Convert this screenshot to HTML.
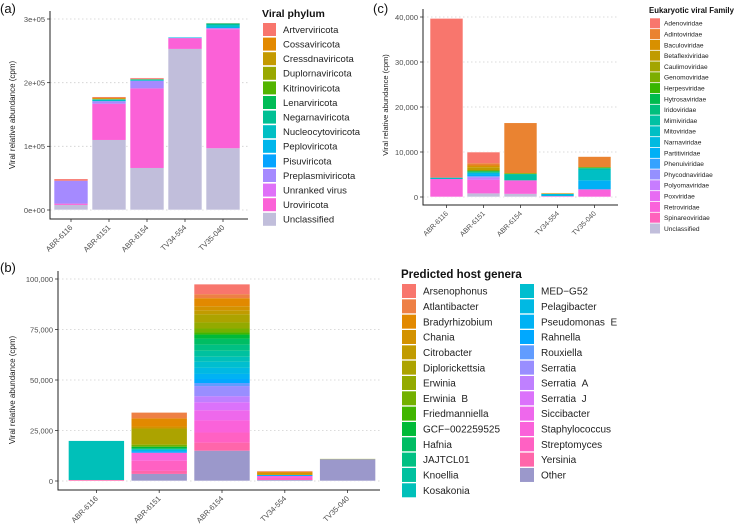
<!DOCTYPE html>
<html><head><meta charset="utf-8"><style>
html,body{margin:0;padding:0;background:#fff;}
svg{display:block;font-family:"Liberation Sans",sans-serif;}
</style></head><body>
<svg id="fig" width="734" height="531" viewBox="0 0 734 531"></svg>
<script>
// ---------- Data ----------
const samples = ["ABR-6116","ABR-6151","ABR-6154","TV34-554","TV35-040"];

const phylaA = ["Artverviricota","Cossaviricota","Cressdnaviricota","Duplornaviricota","Kitrinoviricota","Lenarviricota","Negarnaviricota","Nucleocytoviricota","Peploviricota","Pisuviricota","Preplasmiviricota","Unranked virus","Uroviricota","Unclassified"];
const valsA6116 = [3000,0,0,0,0,0,0,0,0,0,36000,0,2000,8000];
const valsA6151 = [1500,1500,1000,0,0,0,1000,2000,0,0,4000,0,57000,110000];
const valsA6154 = [2000,0,0,0,0,1000,0,1500,0,0,12000,0,125000,66000];
const valsA554  = [0,0,0,0,0,0,0,0,1500,0,0,0,17000,253000];
const valsA040  = [500,0,0,0,0,1000,2000,3000,2000,0,0,1500,187000,97000];
const ticksA = [0,100000,200000,300000];
const tickLabelsA = ["0e+00","1e+05","2e+05","3e+05"];

const familiesC = ["Adenoviridae","Adintoviridae","Baculoviridae","Betaflexiviridae","Caulimoviridae","Genomoviridae","Herpesviridae","Hytrosaviridae","Iridoviridae","Mimiviridae","Mitoviridae","Narnaviridae","Partitiviridae","Phenuiviridae","Phycodnaviridae","Polyomaviridae","Poxviridae","Retroviridae","Spinareoviridae","Unclassified"];
const valsC6116 = [35400,0,0,0,0,0,0,0,0,0,300,0,0,0,0,0,0,4000,0,0];
const valsC6151 = [2500,500,400,700,0,0,200,0,300,0,0,300,500,0,300,500,0,3000,0,800];
const valsC6154 = [0,11200,0,0,0,200,0,0,0,1400,0,0,0,0,0,0,0,3000,0,700];
const valsC554  = [0,0,200,0,0,0,0,0,0,0,0,500,0,0,0,0,0,200,0,0];
const valsC040  = [0,2400,0,0,0,0,200,0,0,400,2300,0,2000,0,0,0,0,1700,0,0];
const ticksC = [0,10000,20000,30000,40000];
const tickLabelsC = ["0","10,000","20,000","30,000","40,000"];

const generaB = ["Arsenophonus","Atlantibacter","Bradyrhizobium","Chania","Citrobacter","Diplorickettsia","Erwinia","Erwinia\u00a0\u00a0B","Friedmanniella","GCF\u2212002259525","Hafnia","JAJTCL01","Knoellia","Kosakonia","MED\u2212G52","Pelagibacter","Pseudomonas\u00a0\u00a0E","Rahnella","Rouxiella","Serratia","Serratia\u00a0\u00a0A","Serratia\u00a0\u00a0J","Siccibacter","Staphylococcus","Streptomyces","Yersinia","Other"];
const valsB6116 = [0,0,0,0,0,0,0,0,0,0,0,0,0,19500,0,0,0,0,0,0,0,0,0,0,0,500,0];
const valsB6151 = [0,3000,4000,1000,0,8000,0,1000,0,1000,0,0,0,600,0,600,0,800,0,0,0,0,0,4000,5000,1500,3500];
const valsB6154 = [5000,2000,4000,2000,2000,4000,3000,2000,1000,2000,3000,3000,3000,2500,3000,3000,2500,2000,1500,5000,3000,4000,5000,6000,5000,4000,15000];
const valsB554  = [0,500,500,1000,0,0,0,0,0,0,0,0,0,0,0,0,0,500,0,0,0,0,0,1000,1000,0,500];
const valsB040  = [0,0,0,0,0,0,300,0,0,0,0,0,0,0,0,0,0,0,0,0,0,0,0,0,0,0,10800];
const ticksB = [0,25000,50000,75000,100000];
const tickLabelsB = ["0","25,000","50,000","75,000","100,000"];

// ---------- helpers ----------
const NS="http://www.w3.org/2000/svg";
const svg=document.getElementById('fig');
function mk(tag,attrs,parent){const e=document.createElementNS(NS,tag);for(const k in attrs)e.setAttribute(k,attrs[k]);(parent||svg).appendChild(e);return e;}
function hcl(h,c,l){
  const Xn=95.047,Yn=100,Zn=108.883;
  const un=4*Xn/(Xn+15*Yn+3*Zn), vn=9*Yn/(Xn+15*Yn+3*Zn);
  const Y=Yn*Math.pow((l+16)/116,3);
  const u=c*Math.cos(h*Math.PI/180), v=c*Math.sin(h*Math.PI/180);
  const up=u/(13*l)+un, vp=v/(13*l)+vn;
  const X=Y*9*up/(4*vp), Z=Y*(12-3*up-20*vp)/(4*vp);
  const x=X/100,y=Y/100,z=Z/100;
  let r=3.2406*x-1.5372*y-0.4986*z, g=-0.9689*x+1.8758*y+0.0415*z, b=0.0557*x-0.2040*y+1.0570*z;
  const gm=t=>{t=t<=0.0031308?12.92*t:1.055*Math.pow(t,1/2.4)-0.055;return Math.round(Math.max(0,Math.min(1,t))*255);};
  return `rgb(${gm(r)},${gm(g)},${gm(b)})`;
}
function hues(n){const a=[];for(let i=0;i<n;i++)a.push(hcl(15+360*i/n,100,65));return a;}

function panel(cfg){
  const g=mk('g',{});
  
  
  const yS=v=>cfg.zeroY-(v/cfg.maxV)*(cfg.zeroY-cfg.topY);
  cfg.ticks.forEach((t,i)=>{
    const y=yS(t);
    const gl=mk('line',{x1:cfg.axisX,x2:cfg.right,y1:y,y2:y,stroke:'#cfcfcf','stroke-width':0.8,'stroke-dasharray':'1.5,2.5'},g);
    
    
    mk('line',{x1:cfg.axisX-3,x2:cfg.axisX,y1:y,y2:y,stroke:'#333','stroke-width':0.8},g);
    const tl=mk('text',{x:cfg.axisX-5,y:y+2.8,'font-size':cfg.tickFs,'text-anchor':'end',fill:'#4d4d4d'},g);
    tl.textContent=cfg.tickLabels[i];
    
    
  });
  cfg.series.forEach((vals,si)=>{
    const cx=cfg.left+cfg.step*(si+0.5);
    let cum=0;
    const order=vals.map((v,i)=>i).reverse();
    order.forEach(ci=>{
      const v=vals[ci]; if(!v)return;
      const y0=yS(cum), y1=yS(cum+v); cum+=v;
      const r=mk('rect',{x:cx-cfg.bw/2,y:y1,width:cfg.bw,height:y0-y1,fill:cfg.colors[ci]},g);
      
      
    });
    const out=mk('rect',{x:cx-cfg.bw/2,y:yS(cum),width:cfg.bw,height:yS(0)-yS(cum),fill:'none',stroke:'#fff','stroke-width':0.6},g);
    
    
    mk('line',{x1:cx,x2:cx,y1:cfg.bottomY,y2:cfg.bottomY+3,stroke:'#333','stroke-width':0.8},g);
    const xl=mk('text',{x:cx+2,y:cfg.bottomY+9,'font-size':cfg.xFs,'text-anchor':'end',fill:'#4d4d4d',transform:`rotate(-45 ${cx+2} ${cfg.bottomY+9})`},g);
    xl.textContent=samples[si];
    
    
  });
  const ax=mk('path',{d:`M${cfg.axisX},${cfg.topY-8} V${cfg.bottomY} H${cfg.right}`,fill:'none',stroke:'#222','stroke-width':1},g);
  
  
  const yt=mk('text',{x:cfg.ytX,y:cfg.ytY,'font-size':cfg.ytFs,'text-anchor':'middle',fill:'#222',transform:`rotate(-90 ${cfg.ytX} ${cfg.ytY})`},g);
  yt.textContent='Viral relative abundance (cpm)';
  
  
  const pl=mk('text',{x:cfg.plX,y:cfg.plY,'font-size':13,fill:'#111'},g);
  pl.textContent=cfg.label;
  
  
  const lt=mk('text',{x:cfg.lg.x,y:cfg.lg.titleY,'font-size':cfg.lg.titleFs,'font-weight':'bold',fill:'#111'},g);
  lt.textContent=cfg.lg.title;
  
  
  cfg.cats.forEach((c,i)=>{
    const col=Math.floor(i/cfg.lg.perCol), row=i%cfg.lg.perCol;
    const sx=cfg.lg.x+1+col*cfg.lg.colW, cy=cfg.lg.y0+row*cfg.lg.dy;
    const s=mk('rect',{x:sx,y:cy-cfg.lg.sh/2,width:cfg.lg.sw,height:cfg.lg.sh,fill:cfg.colors[i]},g);
    
    
    const t=mk('text',{x:sx+cfg.lg.tx,y:cy+cfg.lg.fs*0.36,'font-size':cfg.lg.fs,fill:'#222'},g);
    t.textContent=c;
    
    
  });
}

const colA=hues(14).slice(0,13).concat(['#c1bedb']);
panel({name:'panel-a-viral-phylum',label:'(a)',plX:0,plY:13,series:[valsA6116,valsA6151,valsA6154,valsA554,valsA040],
  cats:phylaA,colors:colA,maxV:300000,ticks:ticksA,tickLabels:tickLabelsA,axisX:50,right:248,zeroY:210,topY:19,bottomY:219,
  left:52,step:38,bw:34,tickFs:7.5,xFs:7.5,ytX:15,ytY:115,ytFs:8,
  lg:{x:262,title:'Viral phylum',titleY:17,titleFs:10.5,y0:29.5,dy:14.6,sw:13,sh:13,tx:20,fs:9.5,perCol:14,colW:0}});

const colC=hues(20).slice(0,19).concat(['#c1bedb']);
panel({name:'panel-c-eukaryotic-viral-family',label:'(c)',plX:373,plY:13,series:[valsC6116,valsC6151,valsC6154,valsC554,valsC040],
  cats:familiesC,colors:colC,maxV:40000,ticks:ticksC,tickLabels:tickLabelsC,axisX:423,right:618,zeroY:197,topY:17,bottomY:205,
  left:428,step:37,bw:33,tickFs:7.5,xFs:7,ytX:388,ytY:105,ytFs:7.5,
  lg:{x:649,title:'Eukaryotic viral Family',titleY:13,titleFs:7.8,y0:23.3,dy:10.8,sw:10,sh:10,tx:14,fs:6.6,perCol:20,colW:0}});

const colB=hues(27).slice(0,26).concat(['#9b98cb']);
panel({name:'panel-b-predicted-host-genera',label:'(b)',plX:0,plY:272,series:[valsB6116,valsB6151,valsB6154,valsB554,valsB040],
  cats:generaB,colors:colB,maxV:100000,ticks:ticksB,tickLabels:tickLabelsB,axisX:58,right:380,zeroY:481,topY:279,bottomY:490,
  left:65,step:62.8,bw:56,tickFs:7.5,xFs:7.5,ytX:15,ytY:390,ytFs:8,
  lg:{x:401,title:'Predicted host genera',titleY:278,titleFs:11.5,y0:291,dy:15.33,sw:14,sh:14,tx:21,fs:10,perCol:14,colW:118}});
</script>
</body></html>
